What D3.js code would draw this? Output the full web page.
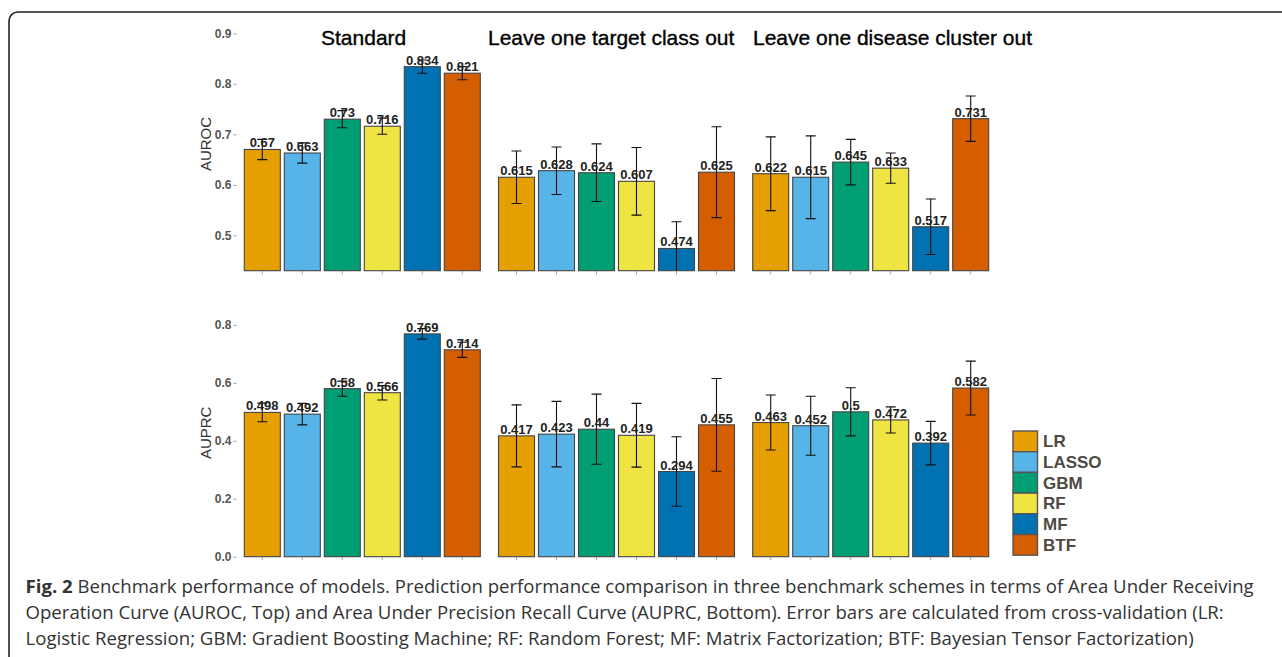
<!DOCTYPE html>
<html>
<head>
<meta charset="utf-8">
<script src="https://cdn.jsdelivr.net/npm/d3@7"></script>
<style>
  html, body { margin: 0; padding: 0; background: #fff; }
  svg { display: block; }
</style>
</head>
<body>
<svg id="fig" width="1282" height="657"></svg>
<script>
// Benchmark schemes (facets) and models (bars within each facet)
const schemes = ["Standard", "Leave one target class out", "Leave one disease cluster out"];
const models = ["LR", "LASSO", "GBM", "RF", "MF", "BTF"];
const modelColors = ["#E69F00", "#56B4E9", "#009E73", "#F0E442", "#0072B2", "#D55E00"];

// AUROC mean per scheme (rows) and model (columns)
const aurocMean = [
  [0.67, 0.663, 0.73, 0.716, 0.834, 0.821],
  [0.615, 0.628, 0.624, 0.607, 0.474, 0.625],
  [0.622, 0.615, 0.645, 0.633, 0.517, 0.731]
];
// AUROC error-bar half widths (cross-validation)
const aurocErr = [
  [0.020, 0.020, 0.017, 0.016, 0.013, 0.013],
  [0.052, 0.047, 0.057, 0.067, 0.053, 0.090],
  [0.073, 0.082, 0.045, 0.030, 0.055, 0.045]
];

// AUPRC mean per scheme and model
const auprcMean = [
  [0.498, 0.492, 0.58, 0.566, 0.769, 0.714],
  [0.417, 0.423, 0.44, 0.419, 0.294, 0.455],
  [0.463, 0.452, 0.5, 0.472, 0.392, 0.582]
];
// AUPRC error-bar half widths
const auprcErr = [
  [0.032, 0.037, 0.026, 0.025, 0.018, 0.026],
  [0.107, 0.113, 0.121, 0.110, 0.120, 0.160],
  [0.095, 0.102, 0.083, 0.045, 0.075, 0.093]
];

const aurocTicks = [0.5, 0.6, 0.7, 0.8, 0.9];
const auprcTicks = [0.0, 0.2, 0.4, 0.6, 0.8];

const captionLines = [
  [{t: "Fig. 2", b: true}, {t: " Benchmark performance of models. Prediction performance comparison in three benchmark schemes in terms of Area Under Receiving"}],
  [{t: "Operation Curve (AUROC, Top) and Area Under Precision Recall Curve (AUPRC, Bottom). Error bars are calculated from cross-validation (LR:"}],
  [{t: "Logistic Regression; GBM: Gradient Boosting Machine; RF: Random Forest; MF: Matrix Factorization; BTF: Bayesian Tensor Factorization)"}]
];

const svg = d3.select("#fig");
const FONT = "'Liberation Sans', Arial, Helvetica, sans-serif";

// Rounded figure frame
svg.append("rect")
  .attr("x", 9).attr("y", 12)
  .attr("width", 1290).attr("height", 660)
  .attr("rx", 9).attr("ry", 9)
  .attr("fill", "none").attr("stroke", "#222").attr("stroke-width", 1.6);

// Facet and bar scales shared by both panels
const xFacet = d3.scaleBand().domain(schemes).range([242.3, 990.7]).paddingInner(0.0559).paddingOuter(0);
const xBar = d3.scaleBand().domain(models).range([0, xFacet.bandwidth()]).paddingInner(0.1).paddingOuter(0.05);
const color = d3.scaleOrdinal().domain(models).range(modelColors);

function panel(cfg) {
  const y = d3.scaleLinear().domain(cfg.domain).range(cfg.range);
  const g = svg.append("g");
  const clipId = "clip-" + cfg.name;
  // clip region in facet-local coordinates: error bars stop at the panel floor
  svg.append("clipPath").attr("id", clipId)
    .append("rect").attr("x", -50).attr("y", cfg.range[1] - 30)
    .attr("width", xFacet.bandwidth() + 100).attr("height", cfg.range[0] - cfg.range[1] + 30);

  // y axis: ticks and labels only
  const yAxis = d3.axisLeft(y).tickValues(cfg.ticks).tickSize(3).tickPadding(2)
    .tickFormat(d => d === 0 ? "0.0" : d3.format("")(d));
  const ya = g.append("g").attr("transform", "translate(236.5,0)").call(yAxis);
  ya.select(".domain").remove();
  ya.selectAll(".tick line").attr("stroke", "#999");
  ya.selectAll(".tick text").attr("fill", "#555").attr("font-family", FONT)
    .attr("font-size", 12).attr("font-weight", "bold");

  // y axis title
  g.append("text")
    .attr("transform", `translate(211,${(cfg.range[0] + cfg.range[1]) / 2 - 8}) rotate(-90)`)
    .attr("text-anchor", "middle").attr("font-family", FONT).attr("font-size", 15)
    .attr("fill", "#333").text(cfg.name);

  schemes.forEach((s, si) => {
    const fg = g.append("g").attr("transform", `translate(${xFacet(s)},0)`);
    const rows = models.map((m, mi) => ({m, v: cfg.mean[si][mi], e: cfg.err[si][mi]}));

    // x axis ticks under each bar
    const xAxis = d3.axisBottom(xBar).tickSize(3).tickFormat("");
    const xa = fg.append("g").attr("transform", `translate(0,${cfg.range[0] + 0.5})`).call(xAxis);
    xa.select(".domain").remove();
    xa.selectAll(".tick line").attr("stroke", "#aaa");

    fg.selectAll("rect.bar").data(rows).join("rect")
      .attr("class", "bar")
      .attr("x", d => xBar(d.m))
      .attr("width", xBar.bandwidth())
      .attr("y", d => y(d.v))
      .attr("height", d => y(cfg.domain[0]) - y(d.v))
      .attr("fill", d => color(d.m))
      .attr("stroke", "#444").attr("stroke-width", 1.1);

    const eb = fg.append("g").attr("clip-path", `url(#${clipId})`)
      .attr("stroke", "#111").attr("stroke-width", 1.1);
    const cx = d => xBar(d.m) + xBar.bandwidth() / 2;
    eb.selectAll("line.v").data(rows).join("line").attr("class", "v")
      .attr("x1", cx).attr("x2", cx)
      .attr("y1", d => y(d.v + d.e)).attr("y2", d => y(d.v - d.e));
    eb.selectAll("line.t").data(rows).join("line").attr("class", "t")
      .attr("x1", d => cx(d) - 5).attr("x2", d => cx(d) + 5)
      .attr("y1", d => y(d.v + d.e)).attr("y2", d => y(d.v + d.e));
    eb.selectAll("line.b").data(rows.filter(d => d.v - d.e >= cfg.domain[0])).join("line").attr("class", "b")
      .attr("x1", d => cx(d) - 5).attr("x2", d => cx(d) + 5)
      .attr("y1", d => y(d.v - d.e)).attr("y2", d => y(d.v - d.e));

    fg.selectAll("text.val").data(rows).join("text").attr("class", "val")
      .attr("x", cx).attr("y", d => y(d.v) - 2)
      .attr("text-anchor", "middle").attr("font-family", FONT)
      .attr("font-size", 13).attr("font-weight", "bold").attr("fill", "#222")
      .text(d => String(d.v));
  });
}

panel({name: "AUROC", domain: [0.43, 0.9], range: [270.7, 33.3], ticks: aurocTicks, mean: aurocMean, err: aurocErr});
panel({name: "AUPRC", domain: [0, 0.8], range: [556.7, 324.9], ticks: auprcTicks, mean: auprcMean, err: auprcErr});

// Scheme titles above the top panel
const titleX = [321, 488, 753];
svg.selectAll("text.scheme").data(schemes).join("text").attr("class", "scheme")
  .attr("x", (d, i) => titleX[i]).attr("y", 45)
  .attr("font-family", FONT).attr("font-size", 21).attr("fill", "#000")
  .attr("stroke", "#000").attr("stroke-width", 0.35)
  .text(d => d);

// Legend
const lg = svg.append("g").attr("transform", "translate(1013,431)");
const keyH = 20.7;
lg.selectAll("rect").data(models).join("rect")
  .attr("x", 0).attr("y", (d, i) => i * keyH)
  .attr("width", 24.5).attr("height", keyH)
  .attr("fill", d => color(d)).attr("stroke", "#555").attr("stroke-width", 1.4);
lg.selectAll("text").data(models).join("text")
  .attr("x", 30).attr("y", (d, i) => i * keyH + keyH / 2 + 6)
  .attr("font-family", FONT).attr("font-size", 17).attr("font-weight", "bold")
  .attr("fill", "#4f4a42").text(d => d);

// Caption
const cap = svg.append("g");
const capY = [593, 619, 645];
const capFont = "'Open Sans', 'Noto Sans', sans-serif";
const capTexts = captionLines.map((line, li) => {
  const t = cap.append("text").attr("x", 25.5).attr("y", capY[li])
    .attr("font-family", capFont).attr("font-size", 17).attr("fill", "#333");
  line.forEach(seg => t.append("tspan").attr("font-weight", seg.b ? "bold" : "normal").text(seg.t));
  return t;
});
// size caption so the first line spans the frame width
const w0 = capTexts[0].node().getComputedTextLength();
const fs = 17 * (1229 / w0);
capTexts.forEach(t => t.attr("font-size", fs));
</script>
</body>
</html>
